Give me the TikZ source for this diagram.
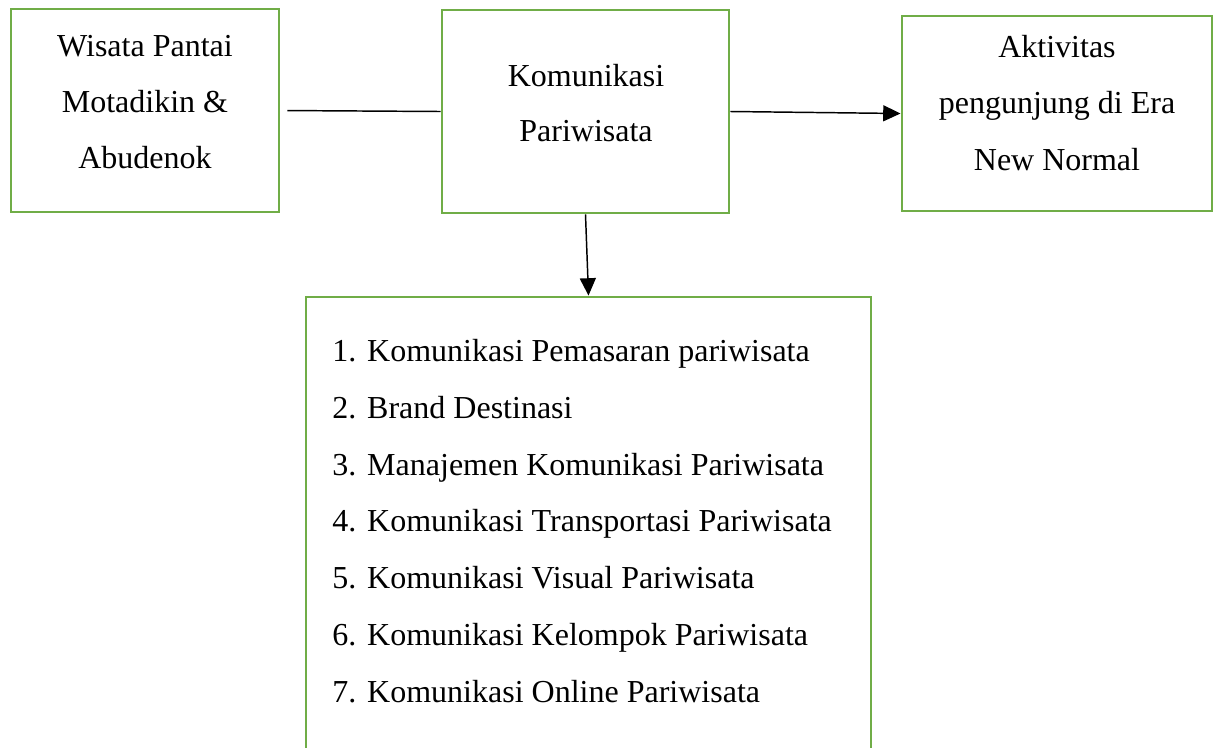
\documentclass[tikz,border=0pt]{standalone}
\usepackage{fontspec}
\setmainfont{Liberation Serif}
\usetikzlibrary{arrows.meta}
\definecolor{boxgreen}{HTML}{70AD47}
\tikzset{
  box/.style={draw=boxgreen, line width=2.2pt, inner sep=0pt, fill=none},
  txt/.style={font=\fontsize{24pt}{29pt}\selectfont, inner sep=0pt, anchor=base},
  item/.style={font=\fontsize{24pt}{29pt}\selectfont, inner sep=0pt, anchor=base west},
  conn/.style={draw=black, line width=1.1pt},
  arr/.style={conn, -{Triangle[length=13pt,width=12pt]}}
}
\newcommand{\num}[1]{\makebox[26.25pt][l]{#1}}
\begin{document}
\begin{tikzpicture}[x=0.75pt,y=-0.75pt]
\useasboundingbox (0,0) rectangle (1213,747);
\fill[white] (0,0) rectangle (1213,747);
\clip (0,0) rectangle (1213,747);
% boxes
\node[box, minimum width=201pt, minimum height=152.25pt] (A) at (145,110.5) {};
\node[box, minimum width=215.25pt, minimum height=152.25pt] (B) at (585.5,111.5) {};
\node[box, minimum width=232.5pt, minimum height=146.25pt] (C) at (1057,113.5) {};
\node[box, minimum width=423.75pt, minimum height=354.75pt] (D) at (588.5,533.5) {};
% texts in A
\node[txt] (a1) at (145,56.7) {Wisata Pantai};
\node[txt] (a2) at (145,112.7) {Motadikin \&};
\node[txt] (a3) at (145,168.5) {Abudenok};
% texts in B
\node[txt] (b1) at (586,86) {Komunikasi};
\node[txt] (b2) at (586,141.7) {Pariwisata};
% texts in C
\node[txt] (c1) at (1057,57.5) {Aktivitas};
\node[txt] (c2) at (1057,113.5) {pengunjung di Era};
\node[txt] (c3) at (1057,170) {New Normal};
% list in D
\node[item] (d1) at (332,361.5) {\num{1.}Komunikasi Pemasaran pariwisata};
\node[item] (d2) at (332,418.3) {\num{2.}Brand Destinasi};
\node[item] (d3) at (332,475) {\num{3.}Manajemen Komunikasi Pariwisata};
\node[item] (d4) at (332,531.8) {\num{4.}Komunikasi Transportasi Pariwisata};
\node[item] (d5) at (332,588.5) {\num{5.}Komunikasi Visual Pariwisata};
\node[item] (d6) at (332,645.3) {\num{6.}Komunikasi Kelompok Pariwisata};
\node[item] (d7) at (332,702) {\num{7.}Komunikasi Online Pariwisata};
% connectors
\draw[conn, shorten <=5.25pt] (A.east) -- (B.west);
\draw[arr] (B.east) -- (C.west);
\draw[arr] (B.south) -- (D.north);
\end{tikzpicture}
\end{document}
